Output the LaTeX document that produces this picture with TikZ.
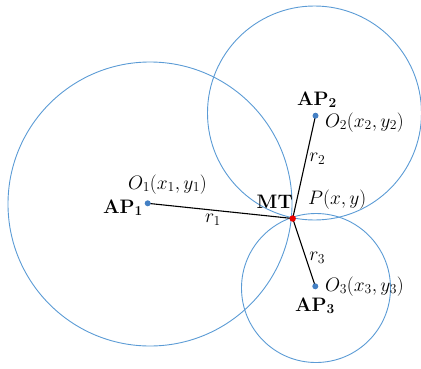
\RequirePackage{fix-cm}
\documentclass[tikz,border=0pt]{standalone}
\usepackage{amsmath,amssymb,bm}
\usepackage{tikz}
\usepackage{xcolor}
\usetikzlibrary{arrows.meta,positioning,calc,backgrounds}
\definecolor{ring}{RGB}{91,155,213}
\definecolor{apdot}{RGB}{68,128,196}
\definecolor{mtdot}{RGB}{235,0,0}

\begin{document}
\begin{tikzpicture}[x=1pt,y=-1pt,
  ap/.style={circle,fill=apdot,inner sep=0pt,minimum size=6pt},
  mtnode/.style={circle,fill=mtdot,inner sep=0pt,minimum size=6.5pt},
  boldlab/.style={inner sep=0pt,font=\fontsize{19.5}{22}\selectfont},
  mathlab/.style={inner sep=0pt,font=\fontsize{19.5}{22}\selectfont}]
\useasboundingbox (0,0) rectangle (421,368);

% access points and terminal
\foreach \n/\x/\y in {1/147.7/203.3, 2/315.5/115.7, 3/315.3/286.3}{
  \node[ap] (ap\n) at (\x,\y) {};}
\node[mtnode] (mt) at (292.7,218.5) {};

\begin{scope}[on background layer]
% range circles
\draw[ring,line width=0.9pt] (150,204) circle (142pt);
\draw[ring,line width=0.9pt] (314.5,113) circle (107pt);
\draw[ring,line width=0.9pt] (316,288) circle (74.5pt);

% distances
\draw[black,line width=1.1pt] (ap1.center) -- (mt.center)
  node[mathlab,pos=0.45,below=3pt] {$r_1$};
\draw[black,line width=1.1pt] (ap2.center) -- (mt.center)
  node[mathlab,pos=0.42,right=3pt] {$r_2$};
\draw[black,line width=1.1pt] (mt.center) -- (ap3.center)
  node[mathlab,pos=0.58,right=3pt] {$r_3$};
\end{scope}

% labels
\node[boldlab,anchor=base east] (lab1) at (143,213) {$\mathbf{AP}_{\mathbf{1}}$};
\node[boldlab,anchor=base] (lab2) at (317,105) {$\mathbf{AP}_{\mathbf{2}}$};
\node[boldlab,anchor=base] (lab3) at (315,311) {$\mathbf{AP}_{\mathbf{3}}$};
\node[boldlab,anchor=base east] (labmt) at (293,208) {$\mathbf{MT}$};
\node[mathlab,anchor=base west] (o1) at (128,189) {$O_1(x_1,y_1)$};
\node[mathlab,anchor=base west] (o2) at (325,127) {$O_2(x_2,y_2)$};
\node[mathlab,anchor=base west] (o3) at (325,291) {$O_3(x_3,y_3)$};
\node[mathlab,anchor=base west] (pxy) at (308,204) {$P(x,y)$};

\end{tikzpicture}
\end{document}
